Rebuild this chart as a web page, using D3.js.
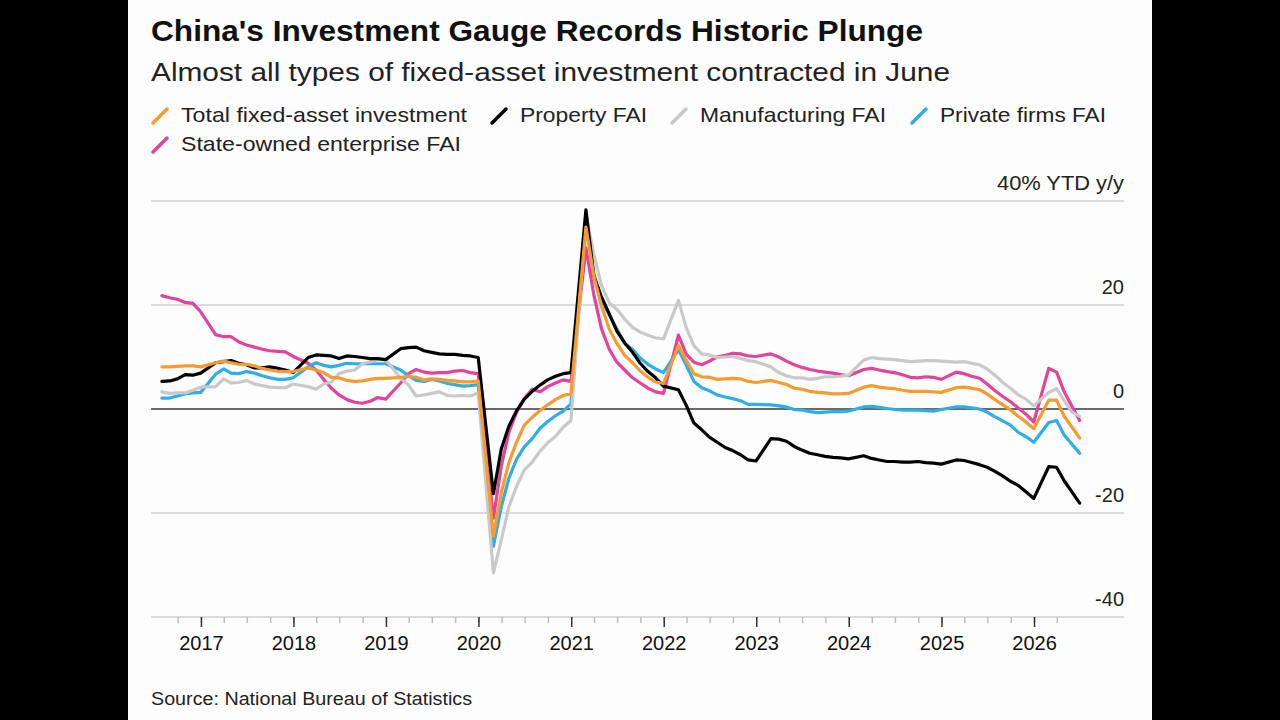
<!DOCTYPE html>
<html>
<head>
<meta charset="utf-8">
<script src="https://cdn.jsdelivr.net/npm/d3@7"></script>
<style>
  html, body { margin: 0; padding: 0; background: #000; }
  svg { display: block; }
  text { font-family: "Liberation Sans", Arial, Helvetica, sans-serif; fill: #111; }
</style>
</head>
<body>
<div id="chart"></div>
<script>
// months (year-to-date data, Jan is folded into Feb)
const months = [
  "2016-07","2016-08","2016-09","2016-10","2016-11","2016-12",
  "2017-02","2017-03","2017-04","2017-05","2017-06","2017-07","2017-08","2017-09","2017-10","2017-11","2017-12",
  "2018-02","2018-03","2018-04","2018-05","2018-06","2018-07","2018-08","2018-09","2018-10","2018-11","2018-12",
  "2019-02","2019-03","2019-04","2019-05","2019-06","2019-07","2019-08","2019-09","2019-10","2019-11","2019-12",
  "2020-02","2020-03","2020-04","2020-05","2020-06","2020-07","2020-08","2020-09","2020-10","2020-11","2020-12",
  "2021-02","2021-03","2021-04","2021-05","2021-06","2021-07","2021-08","2021-09","2021-10","2021-11","2021-12",
  "2022-02","2022-03","2022-04","2022-05","2022-06","2022-07","2022-08","2022-09","2022-10","2022-11","2022-12",
  "2023-02","2023-03","2023-04","2023-05","2023-06","2023-07","2023-08","2023-09","2023-10","2023-11","2023-12",
  "2024-02","2024-03","2024-04","2024-05","2024-06","2024-07","2024-08","2024-09","2024-10","2024-11","2024-12",
  "2025-02","2025-03","2025-04","2025-05","2025-06","2025-07","2025-08","2025-09","2025-10","2025-11","2025-12",
  "2026-02","2026-03","2026-04","2026-05","2026-06"
];

const totalFAI = [
  8.1, 8.1, 8.2, 8.3, 8.3, 8.1,
  8.9, 9.2, 8.9, 8.6, 8.6, 8.3, 7.8, 7.5, 7.3, 7.2, 7.2,
  7.9, 7.5, 7.0, 6.1, 6.0, 5.5, 5.3, 5.4, 5.7, 5.9, 5.9,
  6.1, 6.3, 6.1, 5.6, 5.8, 5.7, 5.5, 5.4, 5.2, 5.2, 5.4,
  -24.5, -16.1, -10.3, -6.3, -3.1, -1.6, -0.3, 0.8, 1.8, 2.6, 2.9,
  35.0, 25.6, 19.9, 15.4, 12.6, 10.3, 8.9, 7.3, 6.1, 5.2, 4.9,
  12.2, 9.3, 6.8, 6.2, 6.1, 5.7, 5.8, 5.9, 5.8, 5.3, 5.1,
  5.5, 5.1, 4.7, 4.0, 3.8, 3.4, 3.2, 3.1, 2.9, 2.9, 3.0,
  4.2, 4.5, 4.2, 4.0, 3.9, 3.6, 3.4, 3.4, 3.4, 3.3, 3.2,
  4.1, 4.2, 4.0, 3.7, 2.9, 1.8, 0.8, -0.2, -1.4, -2.5, -3.8,
  1.7, 1.7, -1.4, -3.5, -5.6
];

const propertyFAI = [
  5.3, 5.4, 5.8, 6.6, 6.5, 6.9,
  8.9, 9.1, 9.3, 8.8, 8.5, 7.9, 7.9, 8.1, 7.8, 7.5, 7.0,
  9.9, 10.4, 10.3, 10.2, 9.7, 10.2, 10.1, 9.9, 9.7, 9.7, 9.5,
  11.6, 11.8, 11.9, 11.2, 10.9, 10.6, 10.5, 10.5, 10.3, 10.2, 9.9,
  -16.3, -7.7, -3.3, -0.3, 1.9, 3.4, 4.6, 5.6, 6.3, 6.8, 7.0,
  38.3, 25.6, 21.6, 18.3, 15.0, 12.7, 10.9, 8.8, 7.2, 6.0, 4.4,
  3.7, 0.7, -2.7, -4.0, -5.4, -6.4, -7.4, -8.0, -8.8, -9.8, -10.0,
  -5.7, -5.8, -6.2, -7.2, -7.9, -8.5, -8.8, -9.1, -9.3, -9.4, -9.6,
  -9.0, -9.5, -9.8, -10.1, -10.1, -10.2, -10.2, -10.1, -10.3, -10.4, -10.6,
  -9.8, -9.9, -10.3, -10.7, -11.2, -12.0, -12.9, -13.9, -14.7, -15.9, -17.2,
  -11.1, -11.2, -13.8, -16.0, -18.1
];

const manufacturingFAI = [
  3.3, 3.0, 3.1, 3.1, 3.6, 4.2,
  4.3, 5.8, 5.0, 5.1, 5.5, 4.8, 4.5, 4.2, 4.1, 4.1, 4.8,
  4.3, 3.8, 4.8, 5.2, 6.8, 7.3, 7.5, 8.7, 9.1, 9.5, 9.5,
  5.9, 4.6, 2.5, 2.7, 3.0, 3.3, 2.6, 2.5, 2.6, 2.5, 3.1,
  -31.5, -25.2, -18.8, -14.8, -11.7, -10.2, -8.1, -6.5, -5.3, -3.5, -2.2,
  37.3, 29.8, 23.8, 20.4, 19.2, 17.3, 15.7, 14.8, 14.2, 13.7, 13.5,
  20.9, 15.6, 12.2, 10.6, 10.4, 9.9, 10.0, 10.1, 9.7, 9.3, 9.1,
  8.1, 7.0, 6.4, 6.0, 6.0, 5.7, 5.9, 6.2, 6.2, 6.3, 6.5,
  9.4, 9.9, 9.7, 9.6, 9.5, 9.3, 9.1, 9.2, 9.3, 9.3, 9.2,
  9.0, 9.1, 8.8, 8.5, 7.7, 6.5, 5.1, 4.0, 2.7, 1.9, 0.6,
  3.2, 3.9, 1.6, -0.6, -1.4
];

const privateFAI = [
  2.1, 2.1, 2.5, 2.9, 3.1, 3.2,
  6.7, 7.7, 6.9, 6.8, 7.2, 6.9, 6.4, 6.0, 5.7, 5.7, 6.0,
  8.1, 8.9, 8.4, 8.1, 8.4, 8.8, 8.7, 8.7, 8.7, 8.7, 8.7,
  7.5, 6.4, 5.5, 5.3, 5.7, 5.4, 4.9, 4.7, 4.4, 4.5, 4.7,
  -26.4, -18.8, -13.3, -9.6, -7.3, -5.7, -3.7, -2.4, -1.3, -0.4, 1.0,
  36.4, 26.0, 21.0, 18.1, 15.4, 12.6, 11.5, 9.8, 8.6, 7.7, 7.0,
  11.4, 8.4, 5.3, 4.1, 3.5, 2.7, 2.3, 2.0, 1.6, 0.9, 0.9,
  0.8, 0.6, 0.4, -0.1, -0.2, -0.5, -0.7, -0.6, -0.5, -0.5, -0.4,
  0.4, 0.5, 0.3, 0.1, -0.1, -0.2, -0.2, -0.2, -0.3, -0.4, -0.1,
  0.4, 0.4, 0.2, 0.0, -0.6, -1.5, -2.3, -3.1, -4.5, -5.3, -6.4,
  -2.6, -2.2, -5.0, -6.8, -8.5
];

const soeFAI = [
  21.8, 21.4, 21.1, 20.5, 20.3, 18.7,
  14.3, 13.9, 13.9, 12.9, 12.3, 11.9, 11.5, 11.2, 11.1, 11.0, 10.1,
  8.8, 7.5, 5.7, 4.0, 2.7, 1.8, 1.3, 1.1, 1.5, 2.2, 1.9,
  5.0, 6.8, 7.6, 7.1, 6.9, 7.0, 7.0, 7.3, 7.4, 7.0, 6.8,
  -21.0, -11.0, -4.5, -0.5, 2.0, 3.8, 3.3, 4.3, 5.0, 5.6, 5.3,
  31.0, 22.0, 15.5, 11.5, 9.0, 7.5, 6.0, 5.0, 4.0, 3.3, 3.0,
  14.2, 10.5, 9.0, 8.5, 9.2, 10.0, 10.3, 10.7, 10.6, 10.2, 10.1,
  10.6, 10.0, 9.2, 8.5, 8.0, 7.6, 7.3, 7.1, 6.9, 6.6, 6.4,
  7.6, 7.8, 7.5, 7.2, 7.0, 6.6, 6.1, 6.0, 6.2, 6.1, 5.7,
  7.1, 6.8, 6.3, 5.9, 4.8, 3.5, 2.4, 1.4, 0.2, -1.0, -2.5,
  7.8, 7.1, 3.3, 0.5, -2.2
];

const seriesNames = ["Total fixed-asset investment", "Property FAI", "Manufacturing FAI", "Private firms FAI", "State-owned enterprise FAI"];
const seriesValues = [totalFAI, propertyFAI, manufacturingFAI, privateFAI, soeFAI];
const seriesColors = ["#F59B2F", "#000000", "#C9C9C9", "#2EAEE6", "#E2449C"];
const yTicks = [-40, -20, 0, 20, 40];
const yearTicks = [2017, 2018, 2019, 2020, 2021, 2022, 2023, 2024, 2025, 2026];

const titleText = "China's Investment Gauge Records Historic Plunge";
const subtitleText = "Almost all types of fixed-asset investment contracted in June";
const unitText = "% YTD y/y";
const sourceText = "Source: National Bureau of Statistics";

const W = 1280, H = 720;
const panel = { left: 128, right: 1152 };
const plot = { left: 151, right: 1124, top: 201, bottom: 617 };

// each point sits at the end of its month
const dates = months.map((m) => {
    const [y, mo] = m.split("-").map(Number);
    return new Date(y, mo, 0);
});

const series = seriesNames.map((name, i) => ({
    name: name,
    color: seriesColors[i],
    values: seriesValues[i].map((v, j) => ({ date: dates[j], value: v })),
}));

const x = d3.scaleTime()
    .domain([new Date(2016, 5, 18), new Date(2026, 11, 22)])
    .range([plot.left, plot.right]);

const y = d3.scaleLinear()
    .domain([-40, 40])
    .range([plot.bottom, plot.top]);

const svg = d3.select("#chart")
    .append("svg")
    .attr("width", W)
    .attr("height", H);

svg.append("rect")
    .attr("x", panel.left)
    .attr("y", 0)
    .attr("width", panel.right - panel.left)
    .attr("height", H)
    .attr("fill", "#fdfdfd");

// fit a text to a measured width (the original uses a narrower grotesque)
function fitWidth(sel, target) {
    const w = sel.node().getComputedTextLength();
    if (Math.abs(w - target) > 2) {
        sel.attr("textLength", target).attr("lengthAdjust", "spacingAndGlyphs");
    }
}

const title = svg.append("text")
    .attr("x", plot.left)
    .attr("y", 41)
    .style("font-size", "30px")
    .style("font-weight", "bold")
    .text(titleText);
fitWidth(title, 772);

const subtitle = svg.append("text")
    .attr("x", plot.left)
    .attr("y", 81)
    .style("font-size", "25px")
    .style("fill", "#222")
    .text(subtitleText);
fitWidth(subtitle, 799);

// legend
const legendRows = [[0, 1, 2, 3], [4]];
const legendX = [[151, 490, 670, 910], [151]];
const legendTextW = [[286, 127, 186, 166], [280]];
legendRows.forEach((row, r) => {
    const baseY = 122 + r * 29;
    row.forEach((si, k) => {
        const g = svg.append("g").attr("transform", `translate(${legendX[r][k]},${baseY})`);
        g.append("line")
            .attr("x1", 2).attr("y1", 1)
            .attr("x2", 16).attr("y2", -13)
            .attr("stroke", series[si].color)
            .attr("stroke-width", 3.5)
            .attr("stroke-linecap", "round");
        const t = g.append("text")
            .attr("x", 30)
            .attr("y", 0)
            .style("font-size", "21px")
            .style("fill", "#222")
            .text(series[si].name);
        fitWidth(t, legendTextW[r][k]);
    });
});

// gridlines
svg.append("g")
    .selectAll("line")
    .data(yTicks)
    .join("line")
    .attr("x1", plot.left)
    .attr("x2", plot.right)
    .attr("y1", (d) => y(d))
    .attr("y2", (d) => y(d))
    .attr("stroke", "#cfcfcf")
    .attr("stroke-width", 1.5);

// y labels sit on top of their gridlines, right aligned
svg.append("g")
    .selectAll("text")
    .data(yTicks)
    .join("text")
    .attr("x", plot.right)
    .attr("y", (d) => y(d) - 11)
    .attr("text-anchor", "end")
    .style("font-size", "20px")
    .style("fill", "#222")
    .text((d) => (d === 40 ? d + unitText : d))
    .each(function (d) {
        if (d === 40) fitWidth(d3.select(this), 127);
    });

// x axis: quarterly minor ticks and yearly major ticks
const firstDate = dates[0], lastDate = dates[dates.length - 1];
const quarterTicks = d3.timeMonth.every(3).range(firstDate, lastDate);
const yearDates = yearTicks.map((yr) => new Date(yr, 0, 1));

const minorAxis = svg.append("g")
    .attr("transform", `translate(0,${plot.bottom})`)
    .call(d3.axisBottom(x).tickValues(quarterTicks).tickSize(6).tickFormat(""));
minorAxis.select(".domain").remove();
minorAxis.selectAll(".tick line").attr("stroke", "#bdbdbd").attr("stroke-width", 1.5);

const majorAxis = svg.append("g")
    .attr("transform", `translate(0,${plot.bottom})`)
    .call(d3.axisBottom(x).tickValues(yearDates).tickSize(10).tickPadding(9).tickFormat(d3.timeFormat("%Y")));
majorAxis.select(".domain").remove();
majorAxis.selectAll(".tick line").attr("stroke", "#333").attr("stroke-width", 1.5);
majorAxis.selectAll(".tick text")
    .style("font-size", "20px")
    .style("font-family", "\"Liberation Sans\", Arial, sans-serif")
    .attr("fill", "#222");

// zero line
svg.append("line")
    .attr("x1", plot.left)
    .attr("x2", plot.right)
    .attr("y1", y(0))
    .attr("y2", y(0))
    .attr("stroke", "#444")
    .attr("stroke-width", 1.6);

// lines, drawn so the total sits on top
const line = d3.line()
    .x((d) => x(d.date))
    .y((d) => y(d.value));

svg.append("g")
    .selectAll("path")
    .data(series.slice().reverse())
    .join("path")
    .attr("d", (d) => line(d.values))
    .attr("fill", "none")
    .attr("stroke", (d) => d.color)
    .attr("stroke-width", 3.2)
    .attr("stroke-linejoin", "round")
    .attr("stroke-linecap", "round");

const source = svg.append("text")
    .attr("x", plot.left)
    .attr("y", 705)
    .style("font-size", "17.5px")
    .style("fill", "#222")
    .text(sourceText);
fitWidth(source, 321);
</script>
</body>
</html>
